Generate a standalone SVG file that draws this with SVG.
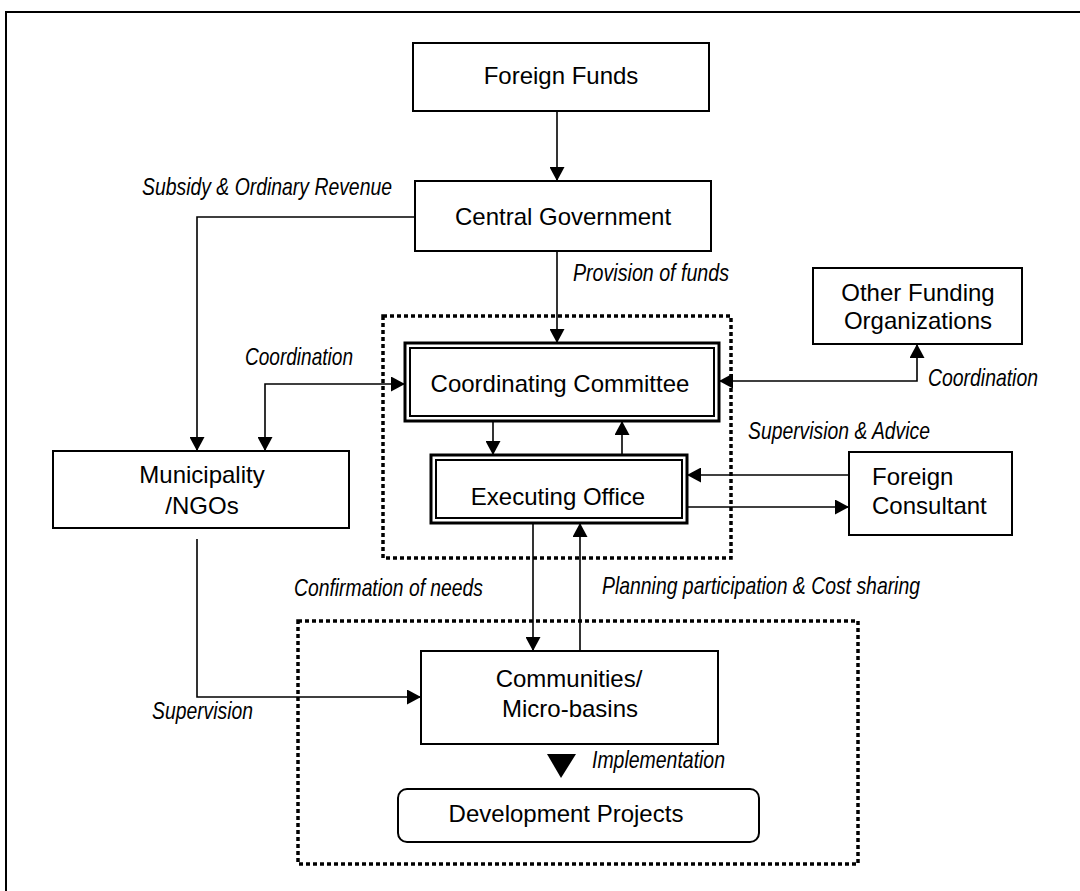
<svg xmlns="http://www.w3.org/2000/svg" width="1080" height="891" viewBox="0 0 1080 891">
<defs>
<marker id="ah" markerUnits="userSpaceOnUse" markerWidth="15" markerHeight="15" refX="14" refY="7.5" orient="auto-start-reverse" viewBox="0 0 15 15">
<path d="M0,0 L14,7.5 L0,15 z" fill="#000"/>
</marker>
<style>
.box{fill:#fff;stroke:#000;stroke-width:2}
.outer{fill:#fff;stroke:#000;stroke-width:3}
.inner{fill:none;stroke:#000;stroke-width:2}
.dot{fill:none;stroke:#000;stroke-width:3.5;stroke-dasharray:4 3}
.t{font-family:"Liberation Sans",Arial,sans-serif;font-size:24px;fill:#000;text-anchor:middle}
.tl{font-family:"Liberation Sans",Arial,sans-serif;font-size:24px;fill:#000}
.lb{font-family:"Liberation Sans",Arial,sans-serif;font-size:24px;font-style:italic;fill:#000}
.c{fill:none;stroke:#000;stroke-width:1.6}
.ce{marker-end:url(#ah)}
.cb{marker-start:url(#ah);marker-end:url(#ah)}
</style>
</defs>
<rect width="1080" height="891" fill="#fff"/>
<path d="M6,891 V12 H1080" fill="none" stroke="#000" stroke-width="2"/>
<rect class="dot" x="383" y="316" width="348" height="242"/>
<rect class="dot" x="298" y="621" width="560" height="243"/>
<g id="connectors">
<path class="c ce" d="M557,111 V181"/>
<path class="c ce" d="M415,217 H197 V451"/>
<path class="c ce" d="M557,251 V343"/>
<path class="c cb" d="M265,451 V384 H405"/>
<path class="c cb" d="M719,381 H917 V344"/>
<path class="c ce" d="M493,421 V455"/>
<path class="c ce" d="M622,455 V421"/>
<path class="c ce" d="M849,475 H687"/>
<path class="c ce" d="M687,507 H849"/>
<path class="c ce" d="M533,523 V651"/>
<path class="c ce" d="M580,651 V523"/>
<path class="c ce" d="M197,539 V697 H421"/>
<polygon points="547,754 576,754 561,778" fill="#000"/>
</g>
<g id="labels">
<text class="lb" x="142" y="195" textLength="250" lengthAdjust="spacingAndGlyphs">Subsidy &amp; Ordinary Revenue</text>
<text class="lb" x="573" y="281" textLength="156" lengthAdjust="spacingAndGlyphs">Provision of funds</text>
<text class="lb" x="245" y="365" textLength="108" lengthAdjust="spacingAndGlyphs">Coordination</text>
<text class="lb" x="928" y="386" textLength="110" lengthAdjust="spacingAndGlyphs">Coordination</text>
<text class="lb" x="748" y="439" textLength="182" lengthAdjust="spacingAndGlyphs">Supervision &amp; Advice</text>
<text class="lb" x="294" y="596" textLength="189" lengthAdjust="spacingAndGlyphs">Confirmation of needs</text>
<text class="lb" x="602" y="594" textLength="318" lengthAdjust="spacingAndGlyphs">Planning participation &amp; Cost sharing</text>
<text class="lb" x="152" y="719" textLength="101" lengthAdjust="spacingAndGlyphs">Supervision</text>
<text class="lb" x="592" y="768" textLength="133" lengthAdjust="spacingAndGlyphs">Implementation</text>
</g>
<g id="foreign-funds">
<rect class="box" x="413" y="43" width="296" height="68"/>
<text class="t" x="561" y="84">Foreign Funds</text>
</g>
<g id="central-government">
<rect class="box" x="415" y="181" width="296" height="70"/>
<text class="t" x="563" y="225">Central Government</text>
</g>
<g id="other-funding">
<rect class="box" x="813" y="268" width="209" height="76"/>
<text class="t" x="918" y="301">Other Funding</text>
<text class="t" x="918" y="329">Organizations</text>
</g>
<g id="coordinating-committee">
<rect class="outer" x="405" y="343" width="314" height="78"/>
<rect class="inner" x="410" y="348" width="304" height="68"/>
<text class="t" x="560" y="392">Coordinating Committee</text>
</g>
<g id="executing-office">
<rect class="outer" x="431" y="455" width="256" height="68"/>
<rect class="inner" x="436" y="460" width="246" height="58"/>
<text class="t" x="558" y="505">Executing Office</text>
</g>
<g id="foreign-consultant">
<rect class="box" x="849" y="452" width="163" height="83"/>
<text class="tl" x="872" y="485">Foreign</text>
<text class="tl" x="872" y="514">Consultant</text>
</g>
<g id="municipality">
<rect class="box" x="53" y="451" width="296" height="77"/>
<text class="t" x="202" y="483">Municipality</text>
<text class="t" x="202" y="514">/NGOs</text>
</g>
<g id="communities">
<rect class="box" x="421" y="651" width="297" height="93"/>
<text class="t" x="569" y="687">Communities/</text>
<text class="t" x="570" y="717">Micro-basins</text>
</g>
<g id="development-projects">
<rect class="box" x="398" y="789" width="361" height="53" rx="9"/>
<text class="t" x="566" y="822">Development Projects</text>
</g>
</svg>
